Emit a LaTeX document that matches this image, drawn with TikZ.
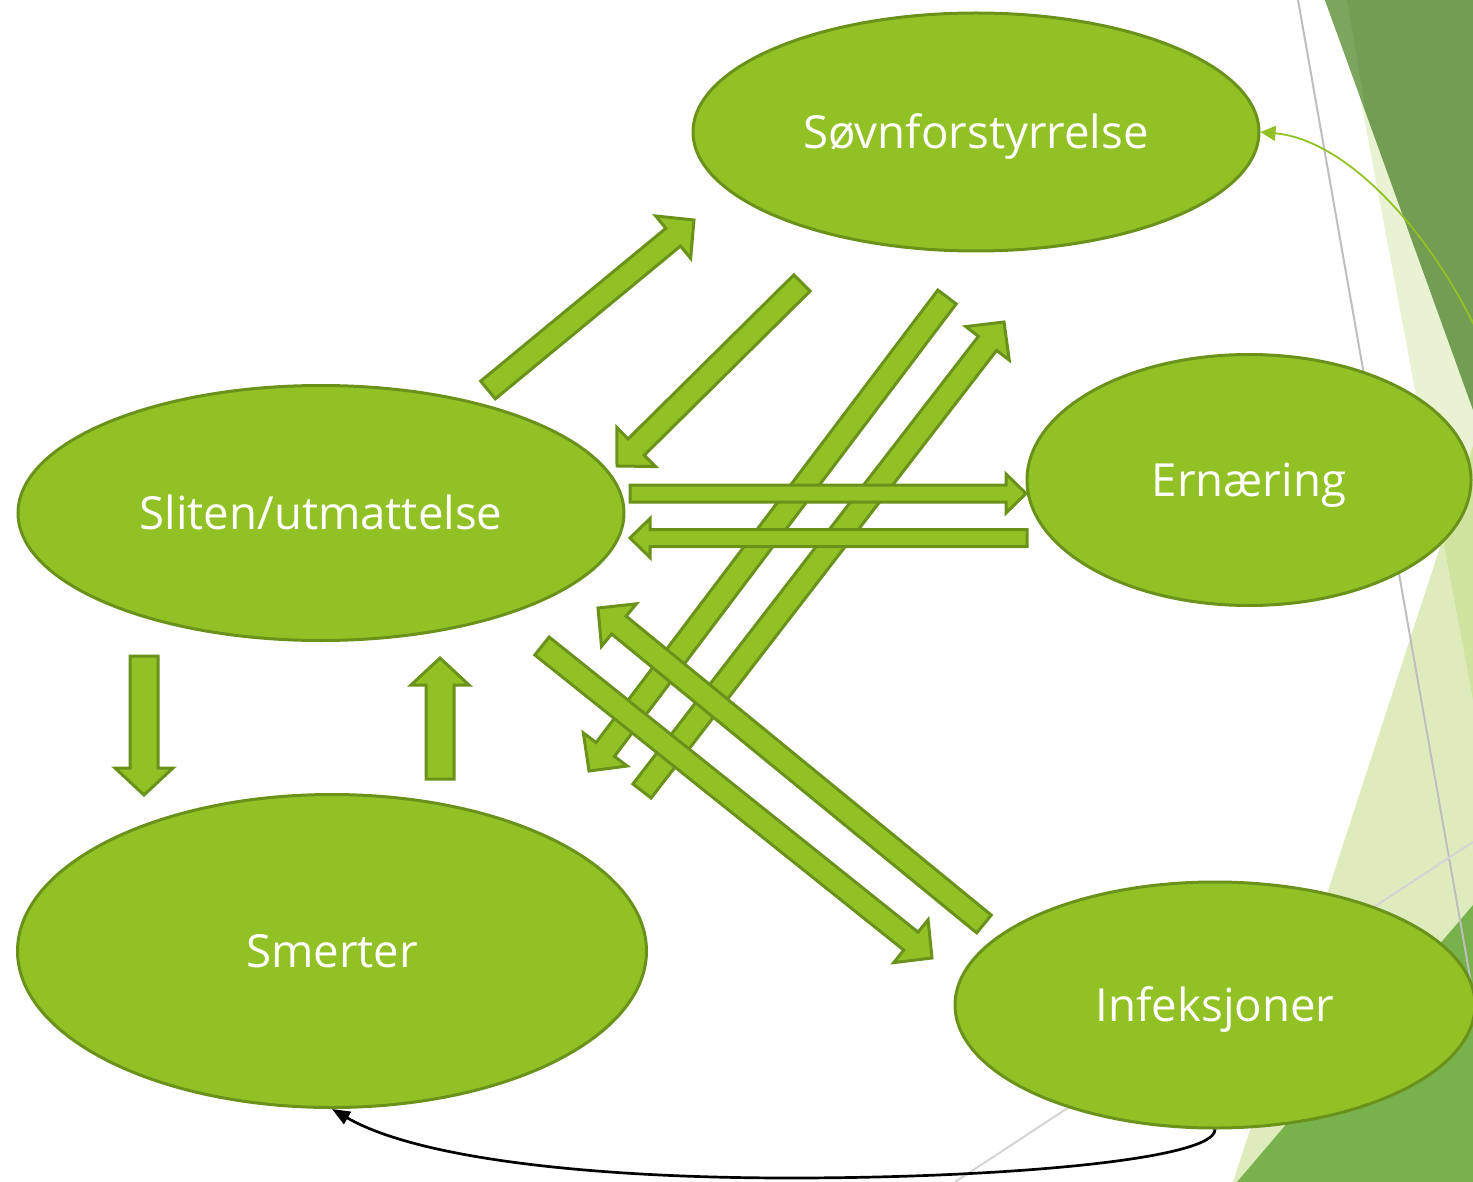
\documentclass[tikz,border=0pt]{standalone}
\usepackage{fontspec}
\setmainfont{Open Sans}
\usetikzlibrary{calc,shapes.geometric,arrows.meta}

\definecolor{nodegreen}{RGB}{146,193,38}
\definecolor{edgegreen}{RGB}{106,146,26}
\definecolor{deepgreen}{RGB}{114,157,82}
\definecolor{deepgreenlt}{RGB}{124,166,94}
\definecolor{midgreen}{RGB}{121,178,76}
\definecolor{rulegray}{RGB}{190,190,190}
\definecolor{rulegraylt}{RGB}{212,212,212}

\tikzset{
  % fixed text height/depth so the capitals sit on the centre line
  bubble/.style={ellipse, draw=edgegreen, fill=nodegreen, line width=1.5pt,
    inner sep=0pt, text=white, font=\fontsize{22.8}{27}\selectfont,
    text height=16.3pt, text depth=0pt},
  blockarrow/.style={draw=edgegreen, fill=nodegreen, line width=1.5pt, line join=miter},
  linkline/.style={line width=1.35pt},
}

% wide block arrow from #1 (tail) to #2 (tip);
% #3 half shaft width, #4 half head width, #5 head length
\newcommand{\blockarr}[5]{%
  \coordinate (neck) at ($(#2)!#5!(#1)$);
  \draw[blockarrow] ($(#1)!#3!90:(#2)$) -- ($(neck)!#3!90:(#2)$)
    -- ($(neck)!#4!90:(#2)$) -- (#2) -- ($(neck)!#4!-90:(#2)$)
    -- ($(neck)!#3!-90:(#2)$) -- ($(#1)!#3!-90:(#2)$) -- cycle;}

\begin{document}
\begin{tikzpicture}[x=0.5pt,y=-0.5pt]
\useasboundingbox (0,0) rectangle (1473,1182);

% backdrop facets on the right edge
\fill[nodegreen, fill opacity=0.2] (1342,0) -- (1473,0) -- (1473,700) -- cycle;
\fill[nodegreen, fill opacity=0.3] (1233,1182) -- (1473,446) -- (1473,1182) -- cycle;
\fill[deepgreen] (1325,0) -- (1473,0) -- (1473,410) -- cycle;
\fill[deepgreenlt] (1325,0) -- (1347,0) -- (1366,112) -- cycle;
\fill[midgreen] (1237,1182) -- (1473,905) -- (1473,1182) -- cycle;
\draw[rulegray, line width=1pt] (1298,0) -- (1473,994);
\draw[rulegraylt, line width=1pt] (955,1182) -- (1473,842);

% topics
\node[bubble, minimum width=283pt, minimum height=119pt] (sovn) at (976,132) {Søvnforstyrrelse};
\node[bubble, minimum width=303pt, minimum height=127.5pt] (sliten) at (321,513) {Sliten/utmattelse};
\node[bubble, minimum width=222pt, minimum height=125.5pt] (ern) at (1249,480) {Ernæring};
\node[bubble, minimum width=314.5pt, minimum height=156.5pt] (smer) at (332,951) {Smerter};
\node[bubble, minimum width=260pt, minimum height=123pt] (infek) at (1215,1005) {Infeksjoner};

% block arrow end points
\coordinate (a1t) at (488,390);  \coordinate (a1h) at (694,220);
\coordinate (a2t) at (802,283);  \coordinate (a2h) at (617,466);
\coordinate (a3t) at (947,297);  \coordinate (a3h) at (589,771);
\coordinate (a4t) at (642,791);  \coordinate (a4h) at (1004,322);
\coordinate (a5t) at (630,493.5); \coordinate (a5h) at (1026,493.5);
\coordinate (a6t) at (1027,538); \coordinate (a6h) at (630,538);
\coordinate (a7t) at (144,656);  \coordinate (a7h) at (144,795);
\coordinate (a8t) at (440,779);  \coordinate (a8h) at (440,658);
\coordinate (a9t) at (542,646);  \coordinate (a9h) at (932,958);
\coordinate (a10t) at (984,924); \coordinate (a10h) at (598,608);

% block arrows
\blockarr{a1t}{a1h}{5.75pt}{13.75pt}{13.5pt}
\blockarr{a2t}{a2h}{5.75pt}{13.75pt}{13.5pt}
\blockarr{a3t}{a3h}{5.75pt}{13.75pt}{13.5pt}
\blockarr{a4t}{a4h}{5.75pt}{13.75pt}{13.5pt}
\blockarr{a9t}{a9h}{5.75pt}{13.75pt}{13.5pt}
\blockarr{a10t}{a10h}{5.75pt}{13.75pt}{13.5pt}
\blockarr{a5t}{a5h}{4.25pt}{9.75pt}{10pt}
\blockarr{a6t}{a6h}{4.25pt}{9.75pt}{10pt}
\blockarr{a7t}{a7h}{7pt}{14.5pt}{13.5pt}
\blockarr{a8t}{a8h}{7pt}{14.5pt}{13.5pt}

% thin curved links
\coordinate (offR) at (1490,360);
\draw[nodegreen, line width=0.9pt, -{Triangle[length=7.5pt,width=7.5pt]}]
  (offR) .. controls (1440,240) and (1350,140) .. (sovn.east);
\coordinate (lowmid) at (790,1178);
\draw[black, linkline] (infek.south) .. controls (1215,1160) and (1000,1178) .. (lowmid);
\draw[black, linkline, -{Triangle[length=9pt,width=7pt]}]
  (lowmid) .. controls (600,1178) and (420,1160) .. (smer.south);
\end{tikzpicture}
\end{document}
